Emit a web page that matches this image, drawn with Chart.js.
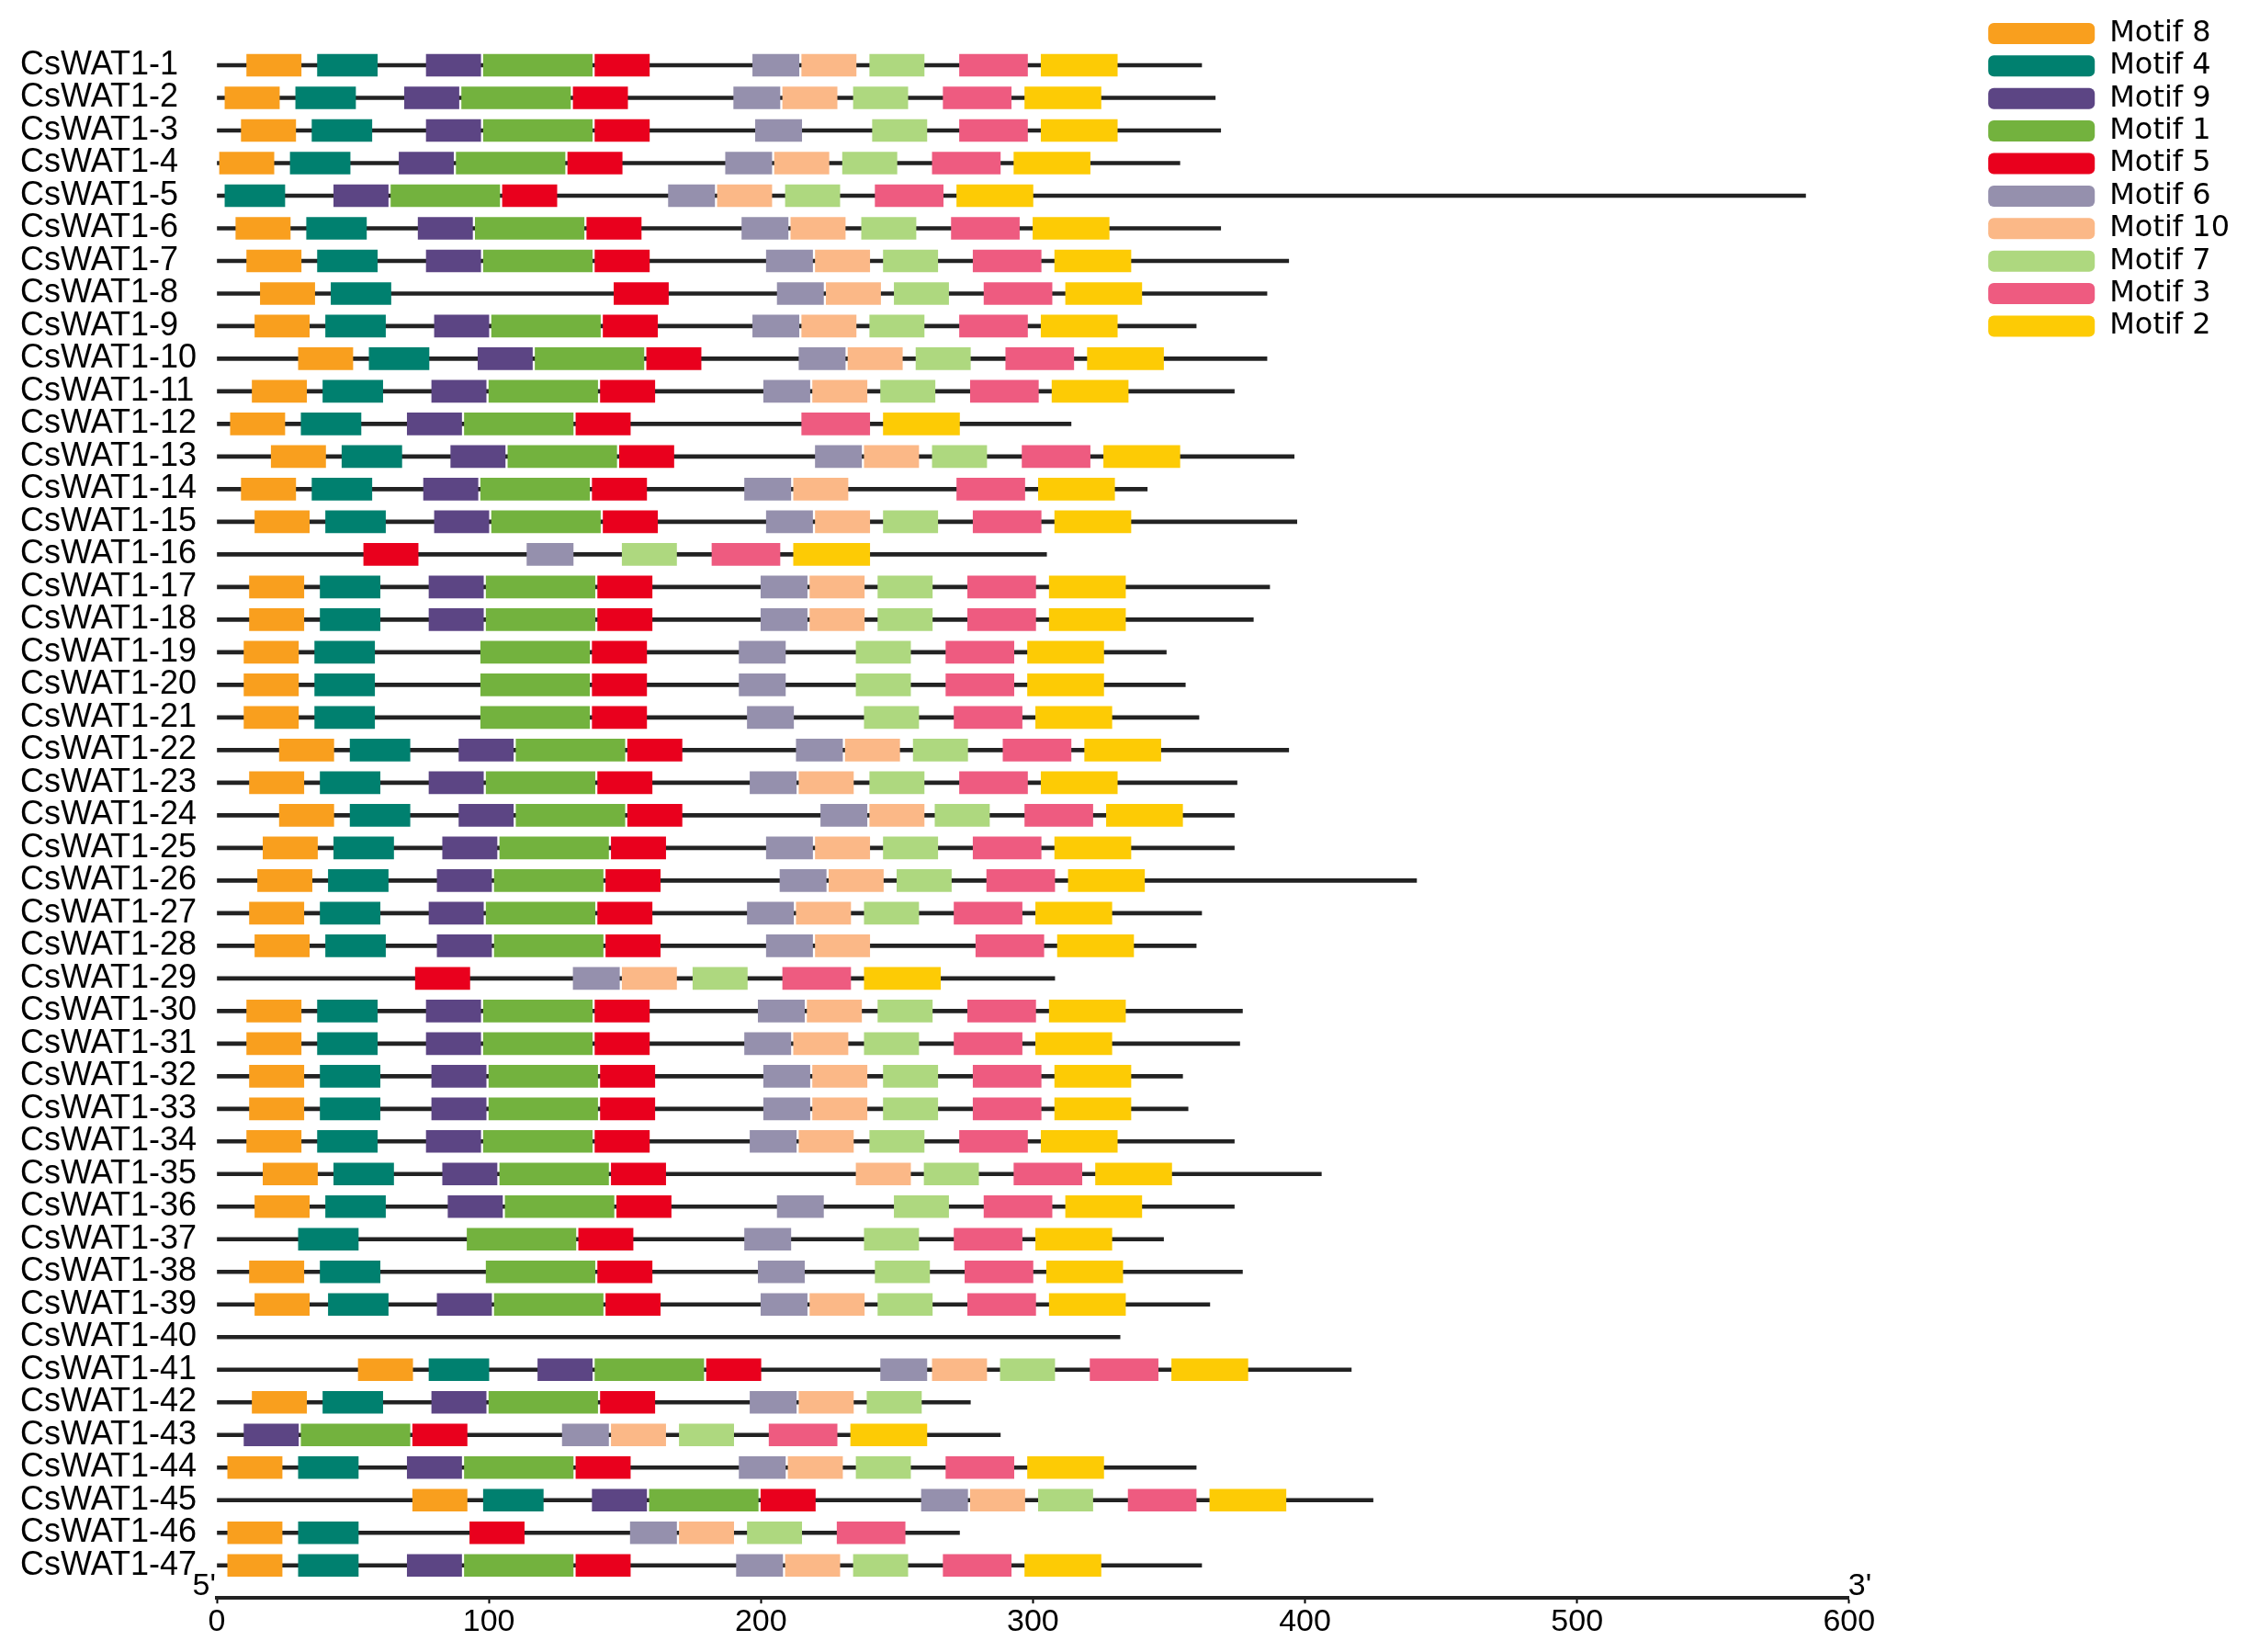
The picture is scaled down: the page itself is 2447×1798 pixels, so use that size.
<!DOCTYPE html>
<html>
<head>
<meta charset="utf-8">
<script src="https://cdn.jsdelivr.net/npm/chart.js@4.4.0/dist/chart.umd.min.js"></script>
<style>
  html, body { margin: 0; padding: 0; background: #fff; }
</style>
</head>
<body>
<canvas id="motifChart" width="2447" height="1798"></canvas>
<script>
// Genes, top to bottom
const genes = [
  'CsWAT1-1', 'CsWAT1-2', 'CsWAT1-3', 'CsWAT1-4', 'CsWAT1-5', 'CsWAT1-6', 'CsWAT1-7', 'CsWAT1-8',
  'CsWAT1-9', 'CsWAT1-10', 'CsWAT1-11', 'CsWAT1-12', 'CsWAT1-13', 'CsWAT1-14', 'CsWAT1-15', 'CsWAT1-16',
  'CsWAT1-17', 'CsWAT1-18', 'CsWAT1-19', 'CsWAT1-20', 'CsWAT1-21', 'CsWAT1-22', 'CsWAT1-23', 'CsWAT1-24',
  'CsWAT1-25', 'CsWAT1-26', 'CsWAT1-27', 'CsWAT1-28', 'CsWAT1-29', 'CsWAT1-30', 'CsWAT1-31', 'CsWAT1-32',
  'CsWAT1-33', 'CsWAT1-34', 'CsWAT1-35', 'CsWAT1-36', 'CsWAT1-37', 'CsWAT1-38', 'CsWAT1-39', 'CsWAT1-40',
  'CsWAT1-41', 'CsWAT1-42', 'CsWAT1-43', 'CsWAT1-44', 'CsWAT1-45', 'CsWAT1-46', 'CsWAT1-47'
];

// Protein length of each gene (aa)
const geneLength = [362, 367, 369, 354, 584, 369, 394, 386, 360, 386,
  374, 314, 396, 342, 397, 305, 387, 381, 349, 356,
  361, 394, 375, 374, 374, 441, 362, 360, 308, 377,
  376, 355, 357, 374, 406, 374, 348, 377, 365, 332,
  417, 277, 288, 360, 425, 273, 362];

const motifNames = ['Motif 8', 'Motif 4', 'Motif 9', 'Motif 1', 'Motif 5', 'Motif 6', 'Motif 10', 'Motif 7', 'Motif 3', 'Motif 2'];
const motifColors = ['#F99F1E', '#00806F', '#5C4584', '#73B23E', '#E9001D', '#9590AD', '#FBB887', '#AED87F', '#EE5B80', '#FDCB05'];
const motifLength = [20, 22, 20, 40, 20, 17, 20, 20, 25, 28];

// Start position of each motif per gene (null = motif absent)
const motif8 = [11, 3, 9, 1, null, 7, 11, 16, 14, 30,
  13, 5, 20, 9, 14, null, 12, 12, 10, 10,
  10, 23, 12, 23, 17, 15, 12, 14, null, 11,
  11, 12, 12, 11, 17, 14, null, 12, 14, null,
  52, 13, null, 4, 72, 4, 4];
const motif4 = [37, 29, 35, 27, 3, 33, 37, 42, 40, 56,
  39, 31, 46, 35, 40, null, 38, 38, 36, 36,
  36, 49, 38, 49, 43, 41, 38, 40, null, 37,
  37, 38, 38, 37, 43, 40, 30, 38, 41, null,
  78, 39, null, 30, 98, 30, 30];
const motif9 = [77, 69, 77, 67, 43, 74, 77, null, 80, 96,
  79, 70, 86, 76, 80, null, 78, 78, null, null,
  null, 89, 78, 89, 83, 81, 78, 81, null, 77,
  77, 79, 79, 77, 83, 85, null, null, 81, null,
  118, 79, 10, 70, 138, null, 70];
const motif1 = [98, 90, 98, 88, 64, 95, 98, null, 101, 117,
  100, 91, 107, 97, 101, null, 99, 99, 97, 97,
  97, 110, 99, 110, 104, 102, 99, 102, null, 98,
  98, 100, 100, 98, 104, 106, 92, 99, 102, null,
  139, 100, 31, 91, 159, null, 91];
const motif5 = [139, 131, 139, 129, 105, 136, 139, 146, 142, 158,
  141, 132, 148, 138, 142, 54, 140, 140, 138, 138,
  138, 151, 140, 151, 145, 143, 140, 143, 73, 139,
  139, 141, 141, 139, 145, 147, 133, 140, 143, null,
  180, 141, 72, 132, 200, 93, 132];
const motif6 = [197, 190, 198, 187, 166, 193, 202, 206, 197, 214,
  201, null, 220, 194, 202, 114, 200, 200, 192, 192,
  195, 213, 196, 222, 202, 207, 195, 202, 131, 199,
  194, 201, 201, 196, null, 206, 194, 199, 200, null,
  244, 196, 127, 192, 259, 152, 191];
const motif10 = [215, 208, null, 205, 184, 211, 220, 224, 215, 232,
  219, null, 238, 212, 220, null, 218, 218, null, null,
  null, 231, 214, 240, 220, 225, 213, 220, 149, 217,
  212, 219, 219, 214, 235, null, null, null, 218, null,
  263, 214, 145, 210, 277, 170, 209];
const motif7 = [240, 234, 241, 230, 209, 237, 245, 249, 240, 257,
  244, null, 263, null, 245, 149, 243, 243, 235, 235,
  238, 256, 240, 264, 245, 250, 238, null, 175, 243,
  238, 245, 245, 240, 260, 249, 238, 242, 243, null,
  288, 239, 170, 235, 302, 195, 234];
const motif3 = [273, 267, 273, 263, 242, 270, 278, 282, 273, 290,
  277, 215, 296, 272, 278, 182, 276, 276, 268, 268,
  271, 289, 273, 297, 278, 283, 271, 279, 208, 276,
  271, 278, 278, 273, 293, 282, 271, 275, 276, null,
  321, null, 203, 268, 335, 228, 267];
const motif2 = [303, 297, 303, 293, 272, 300, 308, 312, 303, 320,
  307, 245, 326, 302, 308, 212, 306, 306, 298, 298,
  301, 319, 303, 327, 308, 313, 301, 309, 238, 306,
  301, 308, 308, 303, 323, 312, 301, 305, 306, null,
  351, null, 233, 298, 365, null, 297];

const motifStarts = [motif8, motif4, motif9, motif1, motif5, motif6, motif10, motif7, motif3, motif2];
const xTicks = [0, 100, 200, 300, 400, 500, 600];

// Motif boxes as floating bars
const datasets = motifNames.map((name, k) => ({
  label: name,
  data: motifStarts[k].map(s => s === null ? null : [s, s + motifLength[k]]),
  backgroundColor: motifColors[k],
  borderWidth: 0,
  barThickness: 24,
  grouped: false,
  clip: false,
  order: 0
}));

// Backbone line for each gene, drawn underneath
datasets.push({
  label: 'backbone',
  data: geneLength.map(len => [0, len]),
  backgroundColor: '#222',
  borderWidth: 0,
  barThickness: 4,
  grouped: false,
  clip: false,
  order: 5
});

// 5' / 3' marks at the ends of the axis
const endLabels = {
  id: 'endLabels',
  afterDraw(chart) {
    const { ctx, scales: { x } } = chart;
    const yBase = chart.chartArea.bottom - 3;
    ctx.save();
    ctx.font = '34px "Liberation Sans", Arial, sans-serif';
    ctx.fillStyle = '#000';
    ctx.textBaseline = 'alphabetic';
    ctx.textAlign = 'right';
    ctx.fillText("5'", x.getPixelForValue(xTicks[0]) - 1, yBase);
    ctx.textAlign = 'left';
    ctx.fillText("3'", x.getPixelForValue(xTicks[xTicks.length - 1]) - 1, yBase);
    ctx.restore();
  }
};

new Chart(document.getElementById('motifChart'), {
  type: 'bar',
  data: {
    labels: genes.concat(['']),
    datasets: datasets
  },
  options: {
    indexAxis: 'y',
    responsive: false,
    devicePixelRatio: 1,
    animation: false,
    layout: { padding: { top: 17, left: 22, right: 10, bottom: 12 } },
    scales: {
      x: {
        type: 'linear',
        position: 'bottom',
        min: xTicks[0],
        max: xTicks[xTicks.length - 1],
        afterBuildTicks: s => { s.ticks = xTicks.map(v => ({ value: v })); },
        ticks: {
          color: '#000',
          padding: 0,
          font: { family: '"Liberation Sans", Arial, sans-serif', size: 34 }
        },
        grid: { display: true, drawOnChartArea: false, drawTicks: true, tickLength: 6, tickColor: '#000', tickWidth: 2 },
        border: { display: true, color: '#222', width: 4 }
      },
      y: {
        type: 'category',
        offset: false,
        grid: { display: false },
        border: { display: false },
        ticks: {
          autoSkip: false,
          crossAlign: 'far',
          color: '#000',
          padding: 0,
          font: { family: '"Liberation Sans", Arial, sans-serif', size: 36 }
        },
        afterFit: s => { s.width = 214; }
      },
      // empty spacer axes so the plot sits where the figure has it
      top: {
        type: 'linear',
        position: 'top',
        grid: { display: false },
        border: { display: false },
        ticks: { display: false },
        afterFit: s => { s.height = 54; }
      },
      gap: {
        type: 'linear',
        position: 'right',
        grid: { display: false },
        border: { display: false },
        ticks: { display: false },
        afterFit: s => { s.width = 148; }
      }
    },
    plugins: {
      tooltip: { enabled: false },
      legend: {
        position: 'right',
        align: 'start',
        labels: {
          boxWidth: 116,
          boxHeight: 23,
          padding: 3.4,
          color: '#000',
          useBorderRadius: true,
          borderRadius: 6,
          font: { family: '"DejaVu Sans", sans-serif', size: 32 },
          filter: item => item.datasetIndex < motifNames.length
        }
      }
    }
  },
  plugins: [endLabels]
});
</script>
</body>
</html>
